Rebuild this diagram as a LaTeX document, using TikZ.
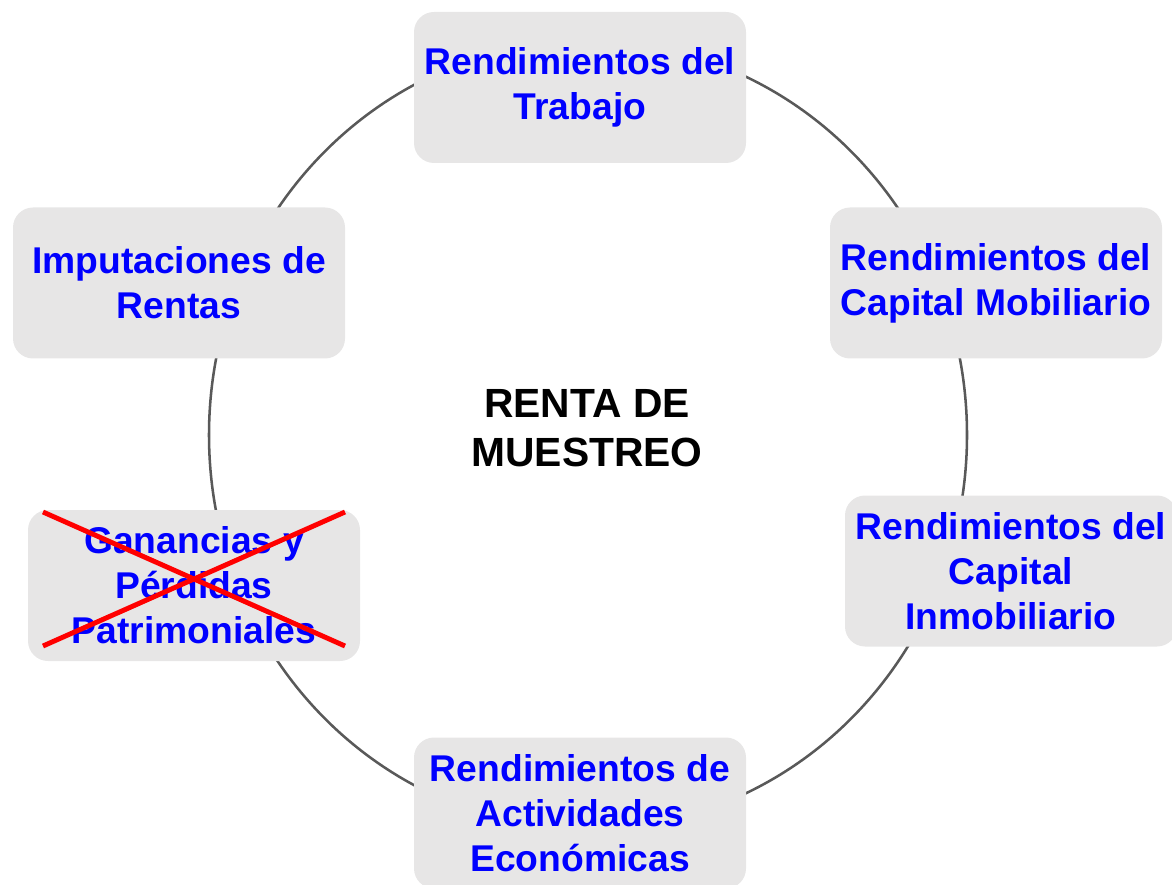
\documentclass[tikz,border=0pt]{standalone}
\usepackage{fontspec}
\setmainfont{Liberation Sans}
\usepackage{tikz}
\definecolor{cajagris}{RGB}{231,230,230}
\definecolor{arcogris}{RGB}{89,89,89}

\begin{document}
\begin{tikzpicture}
		\tikzset{caja/.style = {fill=cajagris, rounded corners=0.5cm, minimum width=8.3cm, minimum height=3.775cm, inner sep=2pt, align=center, text=blue, font=\fontsize{26.5}{32}\selectfont\bfseries}}
		\tikzset{tachado/.style = {red, line width=3.5pt}}
		\useasboundingbox (0,0) rectangle (29.3,22.1);
		
		\draw[arcogris, line width=1.8pt] (14.7,11.225) ellipse [x radius=9.475, y radius=9.85];% ring behind boxes
		
		\node[caja] (trab) at (14.5,19.9125) {Rendimientos del\\Trabajo};
		\node[caja] (mobil) at (24.9,15.025) {Rendimientos del\\Capital Mobiliario};
		\node[caja] (inmob) at (25.275,7.825) {Rendimientos del\\Capital\\Inmobiliario};
		\node[caja] (activ) at (14.5,1.775) {Rendimientos de\\Actividades\\Económicas};
		\node[caja] (ganan) at (4.85,7.4625) {Ganancias y\\Pérdidas\\Patrimoniales};
		\node[caja] (imput) at (4.475,15.025) {Imputaciones de\\Rentas};
		
		\node[align=center, font=\fontsize{29}{34.7}\selectfont\bfseries] (centro) at (14.675,11.4) {RENTA DE\\MUESTREO};
		
		%%%%%%%%%%%%%%%%%%%%%%%%%%%%%%
		
		\coordinate (X1) at (1.075,9.3);
		\coordinate (X2) at (8.625,5.95);
		\coordinate (X3) at (8.625,9.3);
		\coordinate (X4) at (1.075,5.95);
		
		\draw[tachado] (X1) -- (X2);
		\draw[tachado] (X3) -- (X4);
		
\end{tikzpicture}
\end{document}
